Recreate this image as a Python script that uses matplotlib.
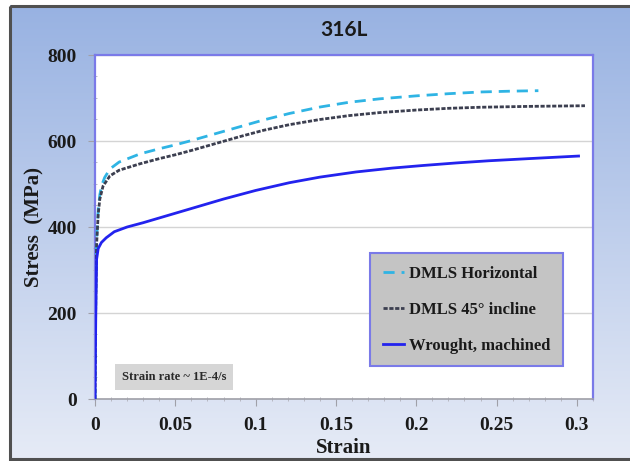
import numpy as np
import matplotlib
matplotlib.use("Agg")
import matplotlib.pyplot as plt
from matplotlib.patches import Rectangle
from matplotlib.ticker import MultipleLocator

# curves (strain, stress in MPa)
horiz_strain = [0, 0.0005, 0.001, 0.002, 0.003, 0.0041, 0.006, 0.0093, 0.015, 0.028, 0.04, 0.05,
                0.06, 0.075, 0.09, 0.105, 0.121, 0.14, 0.158, 0.177, 0.2, 0.22, 0.24, 0.26, 0.276]
horiz_stress = [0, 250, 370, 440, 475, 496, 515, 535, 551, 570, 582, 591,
                601, 617, 633, 649, 664, 679, 690, 698, 705, 710, 714, 716, 717]

incl_strain = [0, 0.0005, 0.001, 0.002, 0.003, 0.005, 0.0093, 0.015, 0.028, 0.04, 0.05, 0.06,
               0.075, 0.09, 0.105, 0.121, 0.14, 0.158, 0.177, 0.2, 0.22, 0.24, 0.27, 0.305]
incl_stress = [0, 240, 360, 430, 465, 495, 519, 532, 547, 559, 568, 578,
               594, 610, 625, 638, 650, 659, 666, 672, 676, 678.5, 680.5, 682]

wrought_strain = [0, 0.0005, 0.001, 0.002, 0.004, 0.007, 0.012, 0.02, 0.03, 0.04, 0.05, 0.06,
                  0.08, 0.1, 0.121, 0.14, 0.1625, 0.185, 0.204, 0.225, 0.245, 0.27, 0.301]
wrought_stress = [0, 200, 325, 350, 364, 375, 389, 400, 410, 421, 432, 443,
                  465, 485, 503, 516, 528, 537, 543, 549, 554, 559, 565]

series_labels = ["DMLS Horizontal", "DMLS 45° incline", "Wrought, machined"]
x_ticks = [0, 0.05, 0.1, 0.15, 0.2, 0.25, 0.3]
x_ticklabels = ["0", "0.05", "0.1", "0.15", "0.2", "0.25", "0.3"]
y_ticks = [0, 200, 400, 600, 800]

W, H = 630, 461
fig = plt.figure(figsize=(W / 100, H / 100), dpi=100)
fig.patch.set_facecolor("white")

# gradient background panel with dark frame
bg = fig.add_axes([0, 0, 1, 1], zorder=0)
bg.set_xlim(0, W)
bg.set_ylim(H, 0)
bg.axis("off")
top = np.array([152, 178, 226]) / 255
bot = np.array([230, 235, 246]) / 255
t = np.linspace(0, 1, 256)[:, None]
grad = (top[None, :] * (1 - t) + bot[None, :] * t)[:, None, :]
bg.imshow(grad, extent=(10, 640, 459, 6), aspect="auto", interpolation="bilinear")
bg.add_patch(Rectangle((10, 6), 640, 453, fill=False, edgecolor="#505050", lw=2.2))

serif = "Liberation Serif"
ax = fig.add_axes([95 / W, 1 - 399 / H, (593 - 95) / W, (399 - 55) / H], zorder=1)
ax.set_facecolor("white")

ax.plot(horiz_strain, horiz_stress, color="#2fb4e4", lw=2, ls=(0, (4, 2.5)), zorder=3)
ax.plot(incl_strain, incl_stress, color="#3c3f50", lw=2, ls=(0, (1.5, 0.6)), zorder=3)
ax.plot(wrought_strain, wrought_stress, color="#2323ee", lw=2, zorder=4)

ax.set_xlim(0, 0.31)
ax.set_ylim(0, 800)
ax.set_xticks(x_ticks)
ax.set_xticklabels(x_ticklabels)
ax.set_yticks(y_ticks)
ax.xaxis.set_minor_locator(MultipleLocator(0.01))
ax.yaxis.set_minor_locator(MultipleLocator(50))
ax.grid(axis="y", which="major", color="#d4d4d4", lw=1)
ax.set_axisbelow(True)

for s in ["left", "right", "top"]:
    ax.spines[s].set_color("#7a7ae8")
    ax.spines[s].set_linewidth(1.6)
ax.spines["bottom"].set_color("#a0a0a8")
ax.spines["bottom"].set_linewidth(1.2)

ax.tick_params(axis="both", which="major", length=5, color="#a0a0a8", pad=8)
ax.tick_params(axis="both", which="minor", length=3, direction="inout", color="#b0b0b8")
for lab in ax.get_xticklabels() + ax.get_yticklabels():
    lab.set_fontfamily(serif)
    lab.set_fontweight("bold")
    lab.set_fontsize(14)
    lab.set_color("#1a1a1a")

ax.set_xlabel("Strain", fontfamily=serif, fontweight="bold", fontsize=15, color="#1a1a1a", labelpad=3)
ax.set_ylabel("Stress  (MPa)", fontfamily=serif, fontweight="bold", fontsize=15, color="#1a1a1a", labelpad=2)
fig.text(344 / W, 1 - 30 / H, "316L", ha="center", va="center", fontfamily="Lato",
         fontweight="bold", fontsize=15, color="#1a1a1a")

# legend box
leg = ax.legend(series_labels, loc="upper left", bbox_to_anchor=((370 - 95) / 498, (399 - 253) / 344),
                prop={"family": serif, "weight": "bold", "size": 12}, frameon=True, fancybox=False,
                handlelength=1.3, handletextpad=0.3, labelspacing=1.2, borderpad=0.75, borderaxespad=0)
leg.get_frame().set_facecolor("#c4c4c4")
leg.get_frame().set_edgecolor("#7a7ae8")
leg.get_frame().set_linewidth(1.5)
leg.get_frame().set_alpha(1)
for txt in leg.get_texts():
    txt.set_color("#1a1a1a")

ax.text((122 - 95) / 498, (399 - 377) / 344, "Strain rate ~ 1E-4/s", transform=ax.transAxes,
        ha="left", va="center", fontfamily=serif, fontweight="bold", fontsize=9, color="#2a2a2a",
        bbox=dict(boxstyle="square,pad=0.55", facecolor="#d6d6d6", edgecolor="none"))

fig.savefig("out.png", dpi=100)
